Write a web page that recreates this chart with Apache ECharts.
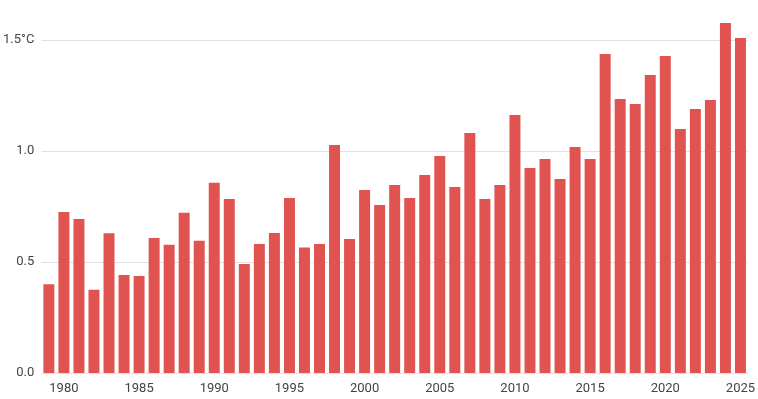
<!DOCTYPE html>
<html>
<head>
<meta charset="utf-8">
<script src="https://cdn.jsdelivr.net/npm/echarts@6/dist/echarts.min.js"></script>
<style>
    html, body { margin: 0; padding: 0; background: #fff; }
    #chart { width: 758px; height: 399px; }
</style>
</head>
<body>
<div id="chart"></div>
<script>
// years 1979..2025
const years = []
for (let y = 1979; y <= 2025; y++) years.push(String(y))
// temperature anomaly, °C
const anomaly = [
    0.40, 0.725, 0.694, 0.375, 0.63, 0.441, 0.437, 0.608, 0.578, 0.722,
    0.596, 0.857, 0.784, 0.491, 0.581, 0.631, 0.788, 0.565, 0.581, 1.027,
    0.604, 0.824, 0.757, 0.847, 0.788, 0.892, 0.977, 0.838, 1.081, 0.784,
    0.847, 1.162, 0.923, 0.964, 0.874, 1.018, 0.964, 1.437, 1.234, 1.212,
    1.342, 1.428, 1.099, 1.189, 1.23, 1.577, 1.509
]
const yTicks = [0, 0.5, 1.0, 1.5]

const myChart = echarts.init(document.getElementById('chart'))
const option = {
    animation: false,
    grid: { left: 41, right: 3, top: 40, bottom: 26 },
    xAxis: {
        type: 'category',
        data: years,
        axisLine: { show: false },
        axisTick: { show: false },
        axisLabel: {
            interval: (i, v) => Number(v) % 5 === 0,
            color: '#444',
            fontFamily: 'Roboto',
            fontSize: 13,
            margin: 9
        }
    },
    yAxis: {
        type: 'value',
        min: yTicks[0],
        max: yTicks[yTicks.length - 1],
        interval: 0.5,
        axisLine: { show: false },
        axisTick: { show: false },
        splitLine: { lineStyle: { color: '#e2e2e2' } },
        axisLabel: {
            color: '#444',
            fontFamily: 'Roboto',
            fontSize: 13,
            margin: 7,
            formatter: v => v === 1.5 ? '1.5°C' : v.toFixed(1)
        }
    },
    series: [
        {
            type: 'bar',
            data: anomaly,
            clip: false,
            barCategoryGap: '27%',
            itemStyle: { color: '#e05350' }
        }
    ]
}
myChart.setOption(option)
</script>
</body>
</html>
